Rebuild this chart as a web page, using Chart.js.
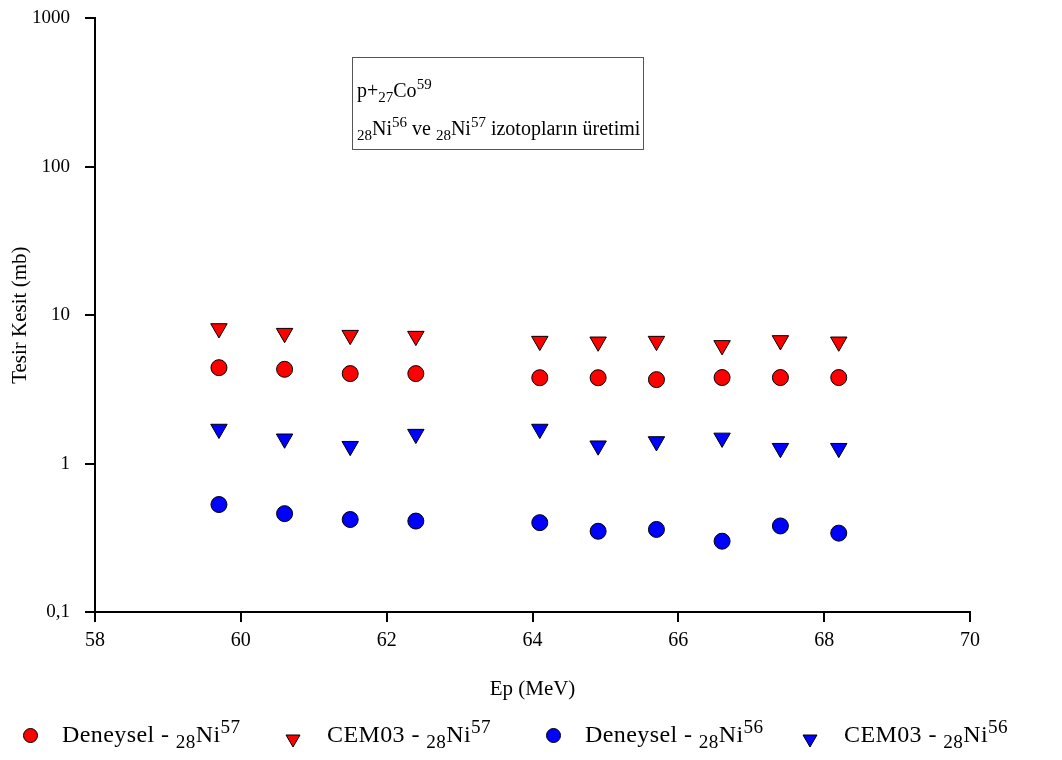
<!DOCTYPE html>
<html>
<head>
<meta charset="utf-8">
<script src="https://cdn.jsdelivr.net/npm/chart.js@4.4.1/dist/chart.umd.min.js"></script>
<style>
  html, body { margin: 0; padding: 0; background: #fff; overflow: hidden; }
  #wrap { position: relative; width: 1062px; height: 760px; overflow: hidden; font-family: "Liberation Serif", "Times New Roman", serif; color: #000; }
  #chart { position: absolute; left: 0; top: -8px; }
  .note { position: absolute; left: 352px; top: 57px; width: 292px; height: 93px; border: 1px solid #555; box-sizing: border-box; padding: 13px 0 0 4px; font-size: 20px; line-height: 38px; white-space: nowrap; }
  .note sub, .note sup { font-size: 75%; }
  .legend { position: absolute; top: 716px; left: 0; width: 1062px; height: 36px; font-size: 24px; letter-spacing: 0.4px; }
  .item { position: absolute; top: 0; white-space: nowrap; line-height: 36px; }
  .mk { position: absolute; }
  sub, sup { font-size: 80%; line-height: 0; }
</style>
</head>
<body>
<div id="wrap">
  <canvas id="chart" width="1062" height="768"></canvas>
  <div class="note">
    p+<sub>27</sub>Co<sup>59</sup><br>
    <sub>28</sub>Ni<sup>56</sup> ve <sub>28</sub>Ni<sup>57</sup> izotopların üretimi
  </div>
  <div class="legend" id="legend"></div>
</div>
<script>
// enerji degerleri (MeV)
const energies = [59.7, 60.6, 61.5, 62.4, 64.1, 64.9, 65.7, 66.6, 67.4, 68.2];

// tesir kesitleri (mb)
const expNi57 = [4.43, 4.32, 4.04, 4.04, 3.79, 3.79, 3.68, 3.80, 3.80, 3.80];
const cemNi57 = [8.14, 7.57, 7.34, 7.23, 6.69, 6.62, 6.69, 6.26, 6.76, 6.62];
const expNi56 = [0.53, 0.46, 0.42, 0.41, 0.40, 0.35, 0.36, 0.30, 0.38, 0.34];
const cemNi56 = [1.71, 1.47, 1.31, 1.58, 1.71, 1.32, 1.41, 1.49, 1.27, 1.27];

const yTicks = [0.1, 1, 10, 100, 1000];
const yTickLabels = ['0,1', '1', '10', '100', '1000'];
const xTicks = [58, 60, 62, 64, 66, 68, 70];

const toPoints = (ys) => energies.map((x, i) => ({ x, y: ys[i] }));

const series = [
  { name: 'Deneysel - ', iso: '57', values: expNi57, color: '#ff0000', shape: 'circle' },
  { name: 'CEM03 - ', iso: '57', values: cemNi57, color: '#ff0000', shape: 'triangle' },
  { name: 'Deneysel - ', iso: '56', values: expNi56, color: '#0000ff', shape: 'circle' },
  { name: 'CEM03 - ', iso: '56', values: cemNi56, color: '#0000ff', shape: 'triangle' }
];

const serif = '"Liberation Serif", "Times New Roman", serif';

const datasets = series.map(s => ({
  label: s.name + '28Ni' + s.iso,
  data: toPoints(s.values),
  backgroundColor: s.color,
  borderColor: '#000',
  borderWidth: 1,
  pointStyle: s.shape,
  pointRadius: s.shape === 'circle' ? 8 : 9.5,
  pointRotation: s.shape === 'circle' ? 0 : 180,
  showLine: false
}));

const ctx = document.getElementById('chart').getContext('2d');
new Chart(ctx, {
  type: 'scatter',
  data: { datasets },
  options: {
    responsive: false,
    animation: false,
    layout: { padding: { top: 9, right: 92, left: 0, bottom: 54 } },
    plugins: { legend: { display: false }, tooltip: { enabled: false } },
    scales: {
      x: {
        type: 'linear',
        min: 58,
        max: 70,
        afterBuildTicks: (scale) => { scale.ticks = xTicks.map(v => ({ value: v })); },
        afterFit: (scale) => { scale.height = 94; },
        border: { display: true, color: '#000', width: 2 },
        grid: { drawOnChartArea: false, drawTicks: true, tickLength: 10, color: '#000', lineWidth: 2 },
        ticks: { color: '#000', padding: 7, font: { family: serif, size: 20 }, maxRotation: 0 },
        title: { display: true, text: 'Ep (MeV)', color: '#000', font: { family: serif, size: 21 }, padding: 4 }
      },
      y: {
        type: 'logarithmic',
        min: 0.1,
        max: 1000,
        afterBuildTicks: (scale) => { scale.ticks = yTicks.map(v => ({ value: v })); },
        afterFit: (scale) => { scale.width = 95; },
        border: { display: true, color: '#000', width: 2 },
        grid: { drawOnChartArea: false, drawTicks: true, tickLength: 10, color: '#000', lineWidth: 2 },
        ticks: {
          color: '#000',
          padding: 15,
          font: { family: serif, size: 19 },
          callback: (v) => {
            const i = yTicks.indexOf(v);
            return i >= 0 ? yTickLabels[i] : '';
          }
        },
        title: { display: true, text: 'Tesir Kesit (mb)', color: '#000', font: { family: serif, size: 21 }, padding: 8 }
      }
    }
  }
});

// legend with sub/superscripts, built from the series list
const legendPos = [
  { mark: 30, text: 62 },
  { mark: 293, text: 327 },
  { mark: 553, text: 585 },
  { mark: 810, text: 844 }
];
const legend = document.getElementById('legend');
series.forEach((s, i) => {
  const p = legendPos[i];
  const mk = document.createElement('div');
  mk.className = 'mk';
  if (s.shape === 'circle') {
    Object.assign(mk.style, {
      left: (p.mark - 7) + 'px', top: '12px', width: '13px', height: '13px',
      borderRadius: '50%', background: s.color, border: '1px solid #000'
    });
  } else {
    mk.innerHTML = `<svg width="16" height="14" viewBox="0 0 16 14"><polygon points="1,1 15,1 8,13" fill="${s.color}" stroke="#000" stroke-width="1"/></svg>`;
    Object.assign(mk.style, { left: (p.mark - 8) + 'px', top: '11px' });
  }
  legend.appendChild(mk);

  const t = document.createElement('div');
  t.className = 'item';
  t.style.left = p.text + 'px';
  t.innerHTML = `${s.name}<sub>28</sub>Ni<sup>${s.iso}</sup>`;
  legend.appendChild(t);
});
</script>
</body>
</html>
